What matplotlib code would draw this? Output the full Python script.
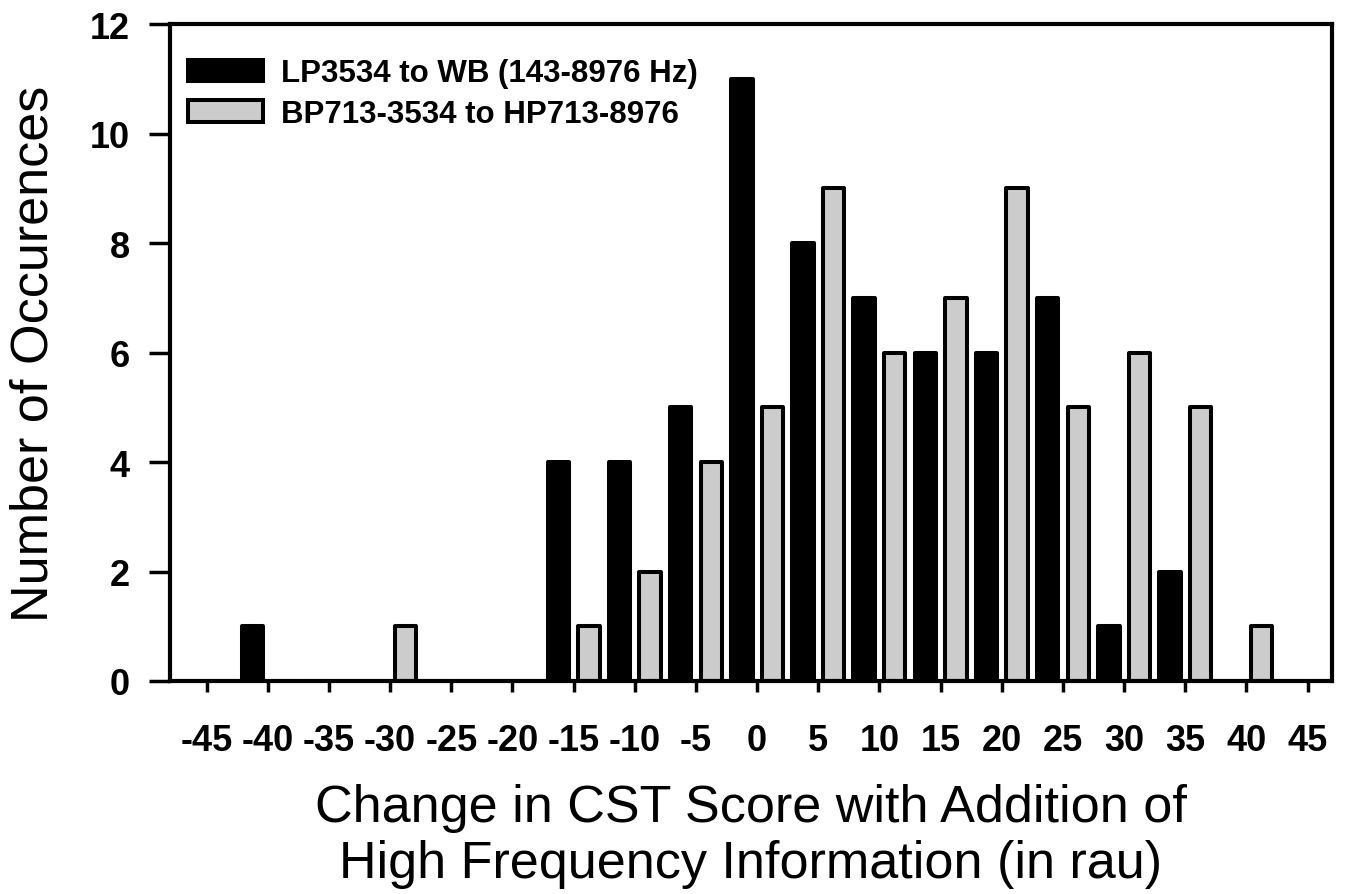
import matplotlib
matplotlib.use('Agg')
import matplotlib.pyplot as plt
import numpy as np

plt.rcParams['font.family'] = ['Liberation Sans', 'DejaVu Sans']
plt.rcParams['axes.unicode_minus'] = False

# bin centres (rau) and counts for both conditions
bins = [-45, -40, -35, -30, -25, -20, -15, -10, -5, 0, 5, 10, 15, 20, 25, 30, 35, 40, 45]
lp_wb = [0, 1, 0, 0, 0, 0, 4, 4, 5, 11, 8, 7, 6, 6, 7, 1, 2, 0, 0]
bp_hp = [0, 0, 0, 1, 0, 0, 1, 2, 4, 5, 9, 6, 7, 9, 5, 6, 5, 1, 0]
labels = ['LP3534 to WB (143-8976 Hz)', 'BP713-3534 to HP713-8976']

fig = plt.figure(figsize=(13.47, 8.95), dpi=100)
ax = fig.add_axes([0.1262, 0.238, 0.8627, 0.734])

x = np.array(bins, dtype=float)
w = 1.75
ax.bar(x - 1.25, lp_wb, width=w, color='black', edgecolor='black',
       linewidth=2.9, joinstyle='round', label=labels[0], zorder=2)
ax.bar(x + 1.25, bp_hp, width=w, color='#cccccc', edgecolor='black',
       linewidth=2.9, joinstyle='round', label=labels[1], zorder=2)

ax.set_xlim(-48, 47)
ax.set_ylim(0, 12)
ax.set_xticks(range(-45, 50, 5))
ax.set_yticks(range(0, 13, 2))

for s in ax.spines.values():
    s.set_linewidth(3)
ax.tick_params(axis='x', direction='out', length=8, width=2.5, pad=22, labelsize=26)
ax.tick_params(axis='y', direction='out', length=15, width=2.5, pad=14, labelsize=26)
for t in ax.get_xticklabels() + ax.get_yticklabels():
    t.set_fontweight('bold')

ax.set_ylabel('Number of Occurences', fontsize=37.5)
ax.yaxis.set_label_coords(-0.096, 0.5)
ax.set_xlabel('Change in CST Score with Addition of\nHigh Frequency Information (in rau)',
              fontsize=37.5, labelpad=18, linespacing=1.2)

# legend handles start just inside the left spine
leg = ax.legend(loc='upper left', frameon=False, prop={'size': 22.5, 'weight': 'bold'},
                handlelength=2.4, handleheight=0.7, handletextpad=0.6,
                labelspacing=0.35, borderaxespad=0, borderpad=0.3,
                bbox_to_anchor=(0.007, 0.962))

fig.savefig('out.png', dpi=100)
